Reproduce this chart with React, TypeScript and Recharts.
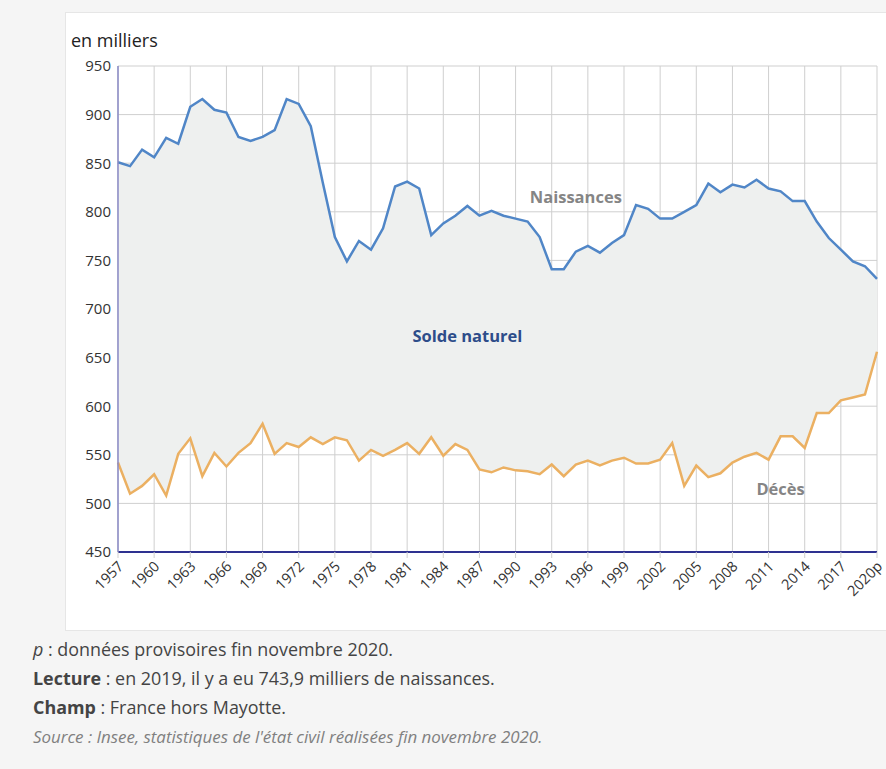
import { Area, CartesianGrid, ComposedChart, Line, ReferenceDot, XAxis, YAxis } from 'recharts';

const years = [
  '1957', '1958', '1959', '1960', '1961', '1962', '1963', '1964', '1965', '1966',
  '1967', '1968', '1969', '1970', '1971', '1972', '1973', '1974', '1975', '1976',
  '1977', '1978', '1979', '1980', '1981', '1982', '1983', '1984', '1985', '1986',
  '1987', '1988', '1989', '1990', '1991', '1992', '1993', '1994', '1995', '1996',
  '1997', '1998', '1999', '2000', '2001', '2002', '2003', '2004', '2005', '2006',
  '2007', '2008', '2009', '2010', '2011', '2012', '2013', '2014', '2015', '2016',
  '2017', '2018', '2019', '2020p',
];

// naissances, en milliers
const naissances = [
  851, 847, 864, 856, 876, 870, 908, 916, 905, 902,
  877, 873, 877, 884, 916, 911, 888, 830, 774, 749,
  770, 761, 783, 826, 831, 824, 776, 788, 796, 806,
  796, 801, 796, 793, 790, 774, 741, 741, 759, 765,
  758, 768, 776, 807, 803, 793, 793, 800, 807, 829,
  820, 828, 825, 833, 824, 821, 811, 811, 790, 773,
  761, 749, 744, 731,
];

// décès, en milliers
const deces = [
  542, 510, 518, 530, 508, 551, 567, 528, 552, 538,
  552, 562, 582, 551, 562, 558, 568, 561, 568, 565,
  544, 555, 549, 555, 562, 551, 568, 549, 561, 555,
  535, 532, 537, 534, 533, 530, 540, 528, 540, 544,
  539, 544, 547, 541, 541, 545, 562, 518, 539, 527,
  531, 542, 548, 552, 545, 569, 569, 557, 593, 593,
  606, 609, 612, 656,
];

const yTicks = [450, 500, 550, 600, 650, 700, 750, 800, 850, 900, 950];

const data = years.map((year, i) => ({
  year,
  naissances: naissances[i],
  deces: deces[i],
  solde: [deces[i], naissances[i]],
}));

const font = '"Open Sans", "Noto Sans", sans-serif';

const YearTick = (props: any) => {
  const { x, y, payload } = props;
  return (
    <g transform={`translate(${x - 1},${y})`}>
      <text
        transform="rotate(-45)"
        textAnchor="end"
        dy="0.71em"
        fontSize={14.5}
        fontFamily={font}
        fill="#333"
      >
        {payload.value}
      </text>
    </g>
  );
};

const labelStyle = (fill: string) => ({
  fill,
  fontSize: 16.5,
  fontWeight: 700,
  fontFamily: font,
});

export default function App() {
  return (
    <div
      style={{
        position: 'absolute',
        left: 0,
        top: 0,
        width: 886,
        height: 769,
        background: '#f5f5f5',
        fontFamily: font,
        overflow: 'hidden',
      }}
    >
      <div
        style={{
          position: 'absolute',
          left: 65,
          top: 12,
          width: 830,
          height: 617,
          background: '#fff',
          border: '1px solid #e6e6e6',
        }}
      />
      <div style={{ position: 'absolute', left: 71, top: 28, fontSize: 18, color: '#222' }}>
        en milliers
      </div>
      <div style={{ position: 'absolute', left: 0, top: 0 }}>
        <ComposedChart
          width={886}
          height={769}
          data={data}
          margin={{ top: 66, right: 9, bottom: 157, left: 58 }}
        >
          <CartesianGrid stroke="#cfcfcf" />
          <XAxis
            dataKey="year"
            scale="point"
            interval={2}
            tick={<YearTick />}
            tickLine={{ stroke: '#cfcfcf' }}
            tickSize={6}
            axisLine={{ stroke: '#2e3190', strokeWidth: 2 }}
            height={60}
          />
          <YAxis
            domain={[450, 950]}
            ticks={yTicks}
            width={60}
            tickLine={false}
            tickSize={0}
            tickMargin={7}
            axisLine={{ stroke: '#8a8ac6', strokeWidth: 1.5 }}
            tick={{ fill: '#333', fontSize: 15, fontFamily: font }}
          />
          <Area
            dataKey="solde"
            stroke="none"
            fill="#eef0ef"
            fillOpacity={1}
            isAnimationActive={false}
          />
          <Line
            dataKey="naissances"
            stroke="#5086c7"
            strokeWidth={2.5}
            dot={false}
            isAnimationActive={false}
          />
          <Line
            dataKey="deces"
            stroke="#ebb062"
            strokeWidth={2.5}
            dot={false}
            isAnimationActive={false}
          />
          <ReferenceDot
            x="1995"
            y={815}
            r={0}
            fill="none"
            stroke="none"
            label={{ value: 'Naissances', position: 'center', ...labelStyle('#858585') }}
          />
          <ReferenceDot
            x="1986"
            y={672}
            r={0}
            fill="none"
            stroke="none"
            label={{ value: 'Solde naturel', position: 'center', ...labelStyle('#2d4d8a') }}
          />
          <ReferenceDot
            x="2012"
            y={515}
            r={0}
            fill="none"
            stroke="none"
            label={{ value: 'Décès', position: 'center', ...labelStyle('#858585') }}
          />
        </ComposedChart>
      </div>
      <div
        style={{
          position: 'absolute',
          left: 33,
          top: 635,
          fontSize: 17.9,
          lineHeight: '29px',
          color: '#444',
        }}
      >
        <div>
          <i>p</i> : données provisoires fin novembre 2020.
        </div>
        <div>
          <b>Lecture</b> : en 2019, il y a eu 743,9 milliers de naissances.
        </div>
        <div>
          <b>Champ</b> : France hors Mayotte.
        </div>
        <div style={{ fontStyle: 'italic', color: '#808080', fontSize: 16.9 }}>
          Source : Insee, statistiques de l'état civil réalisées fin novembre 2020.
        </div>
      </div>
    </div>
  );
}
